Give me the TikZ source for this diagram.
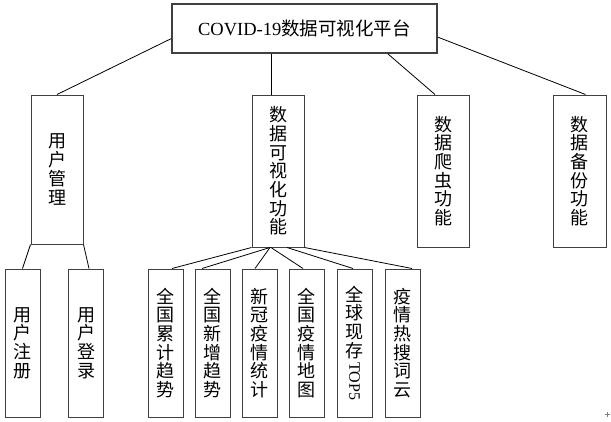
\documentclass[tikz,border=0pt]{standalone}
\usepackage{fontspec}
\setmainfont{Liberation Serif}
\newfontfamily\cjk{Noto Sans CJK SC}
\usepackage{tikz}
\usetikzlibrary{calc,positioning}

\begin{document}
\begin{tikzpicture}[x=1pt,y=-1pt,
  box/.style={draw=black!75,line width=1pt,inner sep=0pt,align=center,font=\cjk\fontsize{18}{18.7}\selectfont},
  branch/.style={box,minimum width=52pt,minimum height=152pt},
  leaf/.style={box,minimum width=35pt,minimum height=148pt},
  link/.style={draw=black,line width=0.8pt}]
\useasboundingbox (0,0) rectangle (611,421);
\node[box,line width=1.5pt,minimum width=265pt,minimum height=49pt,font=\fontsize{18.5}{20}\selectfont] (root) at (304.5,28.5) {COVID-19{\cjk 数据可视化平台}};
\node[branch,minimum height=149pt] (user) at (57,169.5) {用\\户\\管\\理};
\node[branch] (vis) at (278,171) {数\\据\\可\\视\\化\\功\\能};
\node[branch] (crawler) at (443,171) {数\\据\\爬\\虫\\功\\能};
\node[branch,minimum width=53pt] (backup) at (579.5,171) {数\\据\\备\\份\\功\\能};
\node[leaf] (register) at (22.5,343) {用\\户\\注\\册};
\node[leaf] (login) at (86,343) {用\\户\\登\\录};
\node[leaf] (total) at (165.5,343) {全\\国\\累\\计\\趋\\势};
\node[leaf] (daily) at (212.5,343) {全\\国\\新\\增\\趋\\势};
\node[leaf] (stats) at (259.5,343) {新\\冠\\疫\\情\\统\\计};
\node[leaf] (map) at (306.5,343) {全\\国\\疫\\情\\地\\图};
\node[leaf] (top) at (354.5,343) {全\\球\\现\\存\\\raisebox{14pt}{\rotatebox{-90}{\rmfamily\fontsize{16}{16}\selectfont TOP5}}};
\node[leaf] (cloud) at (402.5,343) {疫\\情\\热\\搜\\词\\云};
\draw[link] ($(root.north west)!0.7!(root.south west)$) -- (user.north);
\draw[link] ([xshift=-7pt]vis.north) -- ([xshift=-7pt]vis.north |- root.south);
\draw[link] ([xshift=-50pt]root.south east) -- ([xshift=-8pt]crawler.north);
\draw[link] ($(root.north east)!0.67!(root.south east)$) -- ([xshift=6pt]backup.north);
\draw[link] (user.south west) -- (register.north);
\draw[link] (user.south east) -- ([xshift=3pt]login.north);
\draw[link] (vis.south west) -- ([xshift=6.5pt]total.north);
\draw[link] ([xshift=-8pt]vis.south) -- ([xshift=-10.5pt]daily.north);
\draw[link] ([xshift=-8pt]vis.south) -- ([xshift=-4.5pt]stats.north);
\draw[link] ([xshift=-7pt]vis.south) -- ([xshift=-3.5pt]map.north);
\draw[link] ([xshift=9pt]vis.south) -- ([xshift=-1.5pt]top.north);
\draw[link] (vis.south east) -- ([xshift=9.5pt]cloud.north);
\draw[gray,line width=0.8pt] (604.5,414.5) -- (609.5,414.5) (607,412) -- (607,417);
\end{tikzpicture}
\end{document}
